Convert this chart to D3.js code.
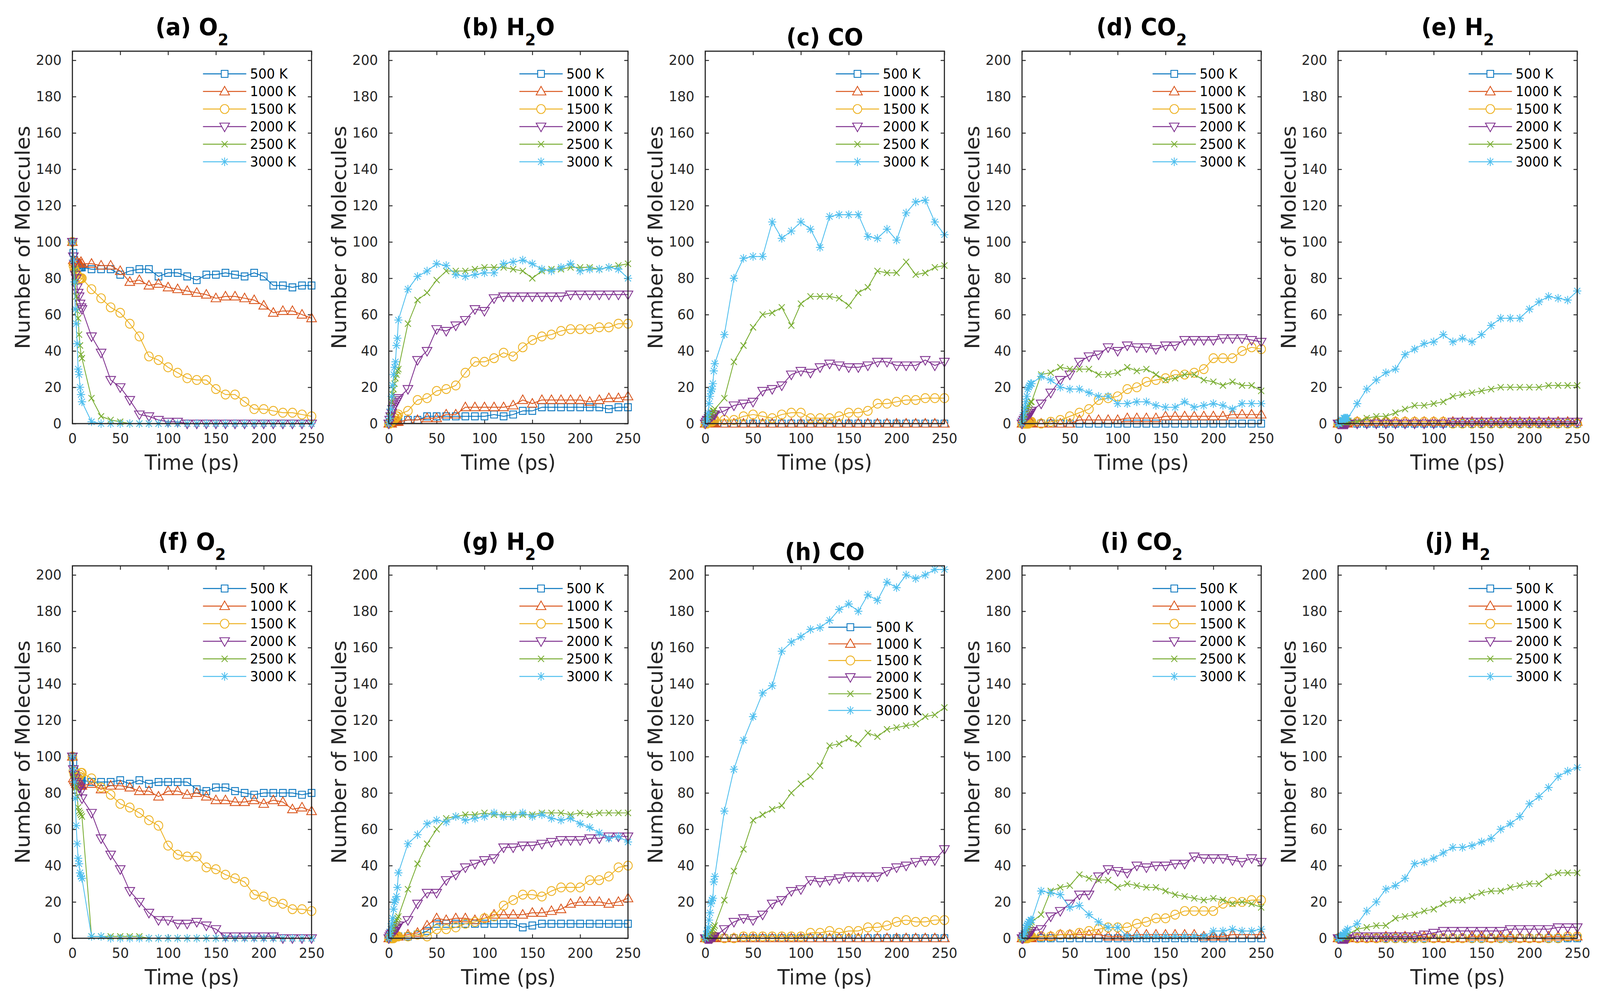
<!DOCTYPE html>
<html>
<head>
<meta charset="utf-8">
<script src="https://cdn.jsdelivr.net/npm/d3@7"></script>
<style>
  html, body { margin: 0; padding: 0; background: #fff; overflow: hidden; }
  #chart svg { display: block; width: 100vw; height: 100vh; }
  text { font-family: "DejaVu Sans", sans-serif; }
</style>
</head>
<body>
<div id="chart"></div>
<script>
// time axis (ps) and tick labels
const times = [0, 1, 2, 3, 4, 5, 6, 7, 8, 9, 10, 20, 30, 40, 50, 60, 70, 80, 90, 100, 110, 120,
  130, 140, 150, 160, 170, 180, 190, 200, 210, 220, 230, 240, 250];
const xTicks = [0, 50, 100, 150, 200, 250];
const yTicks = [0, 20, 40, 60, 80, 100, 120, 140, 160, 180, 200];
const temps = ["500 K", "1000 K", "1500 K", "2000 K", "2500 K", "3000 K"];

// values per panel, one row per temperature (500 K ... 3000 K)
const o2Top = [
  [100,94,90,88,87,87,86,86,86,86,86, 85,85,85,82,84,85,85,81,83,83,81,79,82,82,83,82,81,83,81,76,76,75,76,76],
  [100,90,89,88,88,89,88,88,88,89,88, 88,87,87,84,78,79,76,77,75,74,73,72,71,69,70,70,69,68,65,61,62,62,60,58],
  [100,87,85,84,83,82,81,80,80,80,80, 74,69,64,61,55,48,37,35,31,28,25,24,24,19,16,16,12,8,8,7,6,6,5,4],
  [100,92,88,82,80,75,72,70,66,64,63, 48,39,24,20,13,5,4,2,1,1,0,0,0,0,0,0,0,0,0,0,0,0,0,0],
  [100,90,85,78,70,62,58,49,43,38,36, 14,4,2,1,0,0,0,0,0,0,0,0,0,0,0,0,0,0,0,0,0,0,0,0],
  [100,90,78,63,55,44,30,27,20,16,12, 1,0,0,0,0,0,0,0,0,0,0,0,0,0,0,0,0,0,0,0,0,0,0,0]
];
const h2oTop = [
  [0,0,0,1,1,1,1,1,1,1,1, 2,2,4,4,4,4,4,4,4,5,4,5,7,7,9,9,9,9,9,9,9,8,9,9],
  [0,0,0,0,1,1,1,1,1,1,1, 2,2,3,3,5,5,9,9,9,9,9,10,13,11,13,13,13,13,13,12,13,14,14,15],
  [0,0,1,1,2,2,3,3,4,4,5, 7,13,14,18,19,21,28,34,34,36,39,37,42,46,48,49,51,52,52,52,53,53,55,55],
  [0,2,4,6,8,9,10,11,12,13,14, 19,35,40,52,51,54,57,63,62,69,70,70,70,70,70,70,70,71,71,71,71,71,71,71],
  [0,4,8,12,16,19,22,25,27,29,30, 55,68,72,79,84,84,84,85,86,86,86,85,84,80,84,85,85,86,86,86,85,86,87,88],
  [0,3,8,15,21,27,31,34,43,47,57, 74,81,84,88,87,82,81,82,83,83,88,89,90,88,85,84,86,88,84,85,85,86,85,80]
];
const coTop = [
  [0,0,0,0,0,0,0,0,0,0,0, 0,0,0,0,0,0,0,0,0,0,0,0,0,0,0,0,0,0,0,0,0,0,0,0],
  [0,0,0,0,0,0,0,0,0,0,0, 0,0,0,0,0,0,0,0,0,0,0,0,0,0,0,0,0,0,0,0,0,0,0,0],
  [0,0,0,1,1,1,1,1,2,2,2, 2,2,4,5,4,3,5,6,6,3,3,3,4,6,6,7,11,11,12,13,13,14,14,14],
  [0,1,2,2,3,3,4,4,5,5,5, 7,10,11,12,18,19,21,27,29,28,31,33,32,31,31,32,34,34,32,32,32,35,32,34],
  [0,1,2,3,4,4,5,6,7,7,8, 14,34,43,53,60,61,64,54,66,70,70,70,69,65,72,75,84,83,83,89,82,83,86,87],
  [0,1,3,6,11,15,18,19,22,29,33, 49,80,91,92,92,111,102,106,111,107,97,114,115,115,115,103,102,107,101,116,122,123,111,104]
];
const co2Top = [
  [0,0,0,0,0,0,0,0,0,0,0, 0,0,0,0,0,0,0,0,0,0,0,0,0,0,0,0,0,0,0,0,0,0,0,0],
  [0,0,0,0,0,0,0,0,0,0,0, 0,0,0,0,2,2,2,2,2,3,3,3,3,4,4,4,4,4,4,4,5,5,5,5],
  [0,0,0,0,0,0,0,0,1,1,1, 0,1,2,4,6,8,13,14,15,19,20,23,24,25,27,27,28,30,36,36,36,40,42,41],
  [0,1,2,3,4,4,5,5,6,6,7, 11,17,24,27,34,37,38,42,40,43,42,42,41,43,43,46,46,46,46,47,47,47,46,45],
  [0,2,3,5,7,8,9,10,11,12,12, 27,28,31,30,30,30,27,27,28,31,29,30,27,24,25,27,27,24,23,21,23,21,21,18],
  [0,3,6,9,12,15,19,20,21,22,22, 26,24,20,19,19,17,15,15,11,11,12,12,10,9,9,12,9,10,11,10,8,11,11,11]
];
const h2Top = [
  [0,0,0,0,0,0,0,0,0,0,0, 0,0,0,0,0,0,0,0,0,0,0,0,0,0,0,0,0,0,0,0,0,0,0,0],
  [0,0,0,0,0,0,0,0,0,0,0, 1,1,1,1,1,1,1,1,1,1,1,1,1,1,1,1,1,1,1,1,1,1,1,1],
  [0,0,0,0,0,1,1,1,1,1,1, 1,1,1,1,1,1,1,1,1,1,0,0,0,0,0,0,0,0,0,0,0,0,0,0],
  [0,0,0,0,0,0,0,0,0,0,0, 0,0,0,0,0,0,0,0,0,0,1,1,1,1,1,1,1,1,1,1,1,1,1,1],
  [0,0,0,1,1,1,1,1,1,1,1, 1,3,4,4,6,8,10,10,11,12,15,16,17,18,19,20,20,20,20,20,21,21,21,21],
  [0,0,1,1,2,2,3,3,3,3,3, 11,19,24,28,30,38,41,44,45,49,45,47,45,49,54,58,58,58,63,67,70,69,68,73]
];
const o2Bot = [
  [100,97,92,90,89,88,88,87,87,87,87, 86,86,86,87,85,87,85,86,86,86,86,82,81,83,83,81,80,79,80,80,80,80,79,80],
  [100,88,87,86,85,85,84,84,84,84,84, 85,82,84,84,83,81,81,78,81,81,79,80,78,76,76,75,75,76,74,76,75,71,72,70],
  [100,92,90,89,88,88,88,89,90,91,91, 88,83,79,74,72,69,65,62,51,46,45,45,39,38,35,33,31,24,23,20,19,16,16,15],
  [100,93,90,88,86,85,84,83,83,81,77, 69,55,46,38,26,20,14,10,10,8,8,9,7,5,1,1,1,1,1,1,0,0,0,0],
  [100,90,86,84,83,78,72,70,69,68,67, 1,1,1,1,1,1,0,0,0,0,0,0,0,0,0,0,0,0,0,0,0,0,0,0],
  [100,93,86,77,62,52,44,41,36,34,33, 1,1,0,0,0,0,0,0,0,0,0,0,0,0,0,0,0,0,0,0,0,0,0,0]
];
const h2oBot = [
  [0,0,0,0,1,1,1,1,1,1,1, 1,2,4,8,8,8,8,8,8,8,8,8,6,7,8,8,8,8,8,8,8,8,8,8],
  [0,0,0,1,1,1,1,1,1,1,1, 2,3,7,11,10,11,11,10,11,13,13,13,13,14,14,15,16,19,20,20,20,19,20,22],
  [0,0,0,0,0,0,1,1,1,1,1, 1,2,1,5,5,6,8,9,11,12,18,21,24,24,23,26,28,28,28,32,32,34,39,40],
  [0,1,2,3,3,4,4,5,6,6,7, 10,19,25,25,32,35,39,41,43,44,50,50,51,51,52,53,54,54,54,55,55,56,56,56],
  [0,1,2,3,5,6,8,9,10,11,12, 27,41,52,60,66,67,68,68,69,68,68,68,68,68,69,69,69,68,69,68,69,69,69,69],
  [0,2,5,8,11,16,20,21,23,28,36, 52,57,63,65,64,67,65,66,67,69,67,67,69,67,68,66,65,66,63,61,58,55,56,53]
];
const coBot = [
  [0,0,0,0,0,0,0,0,0,0,0, 0,0,0,0,0,0,0,0,0,0,0,0,0,0,0,0,0,0,0,0,0,0,0,0],
  [0,0,0,0,0,0,0,0,0,0,0, 0,0,0,0,0,0,0,0,0,0,0,0,0,0,0,0,0,0,0,0,0,0,0,0],
  [0,0,0,0,0,0,0,1,1,1,1, 0,0,1,1,1,1,1,1,1,3,3,4,3,4,4,6,6,7,9,10,9,9,10,10],
  [0,0,0,0,0,0,0,0,1,1,1, 5,9,11,10,13,19,21,26,27,32,31,32,33,34,34,34,34,37,39,40,42,43,43,49],
  [0,0,1,1,2,2,3,4,5,6,7, 21,37,49,65,68,71,73,80,85,89,95,106,107,110,107,113,111,115,116,117,118,122,123,127],
  [0,2,4,6,10,14,19,21,22,31,34, 70,93,109,122,135,139,158,163,166,170,171,175,181,184,180,189,186,196,193,200,198,200,203,203]
];
const co2Bot = [
  [0,0,0,0,0,0,0,0,0,0,0, 0,0,0,0,0,0,0,0,0,0,0,0,0,0,0,0,0,0,0,0,0,0,0,0],
  [0,0,0,0,0,0,0,0,0,0,0, 1,1,2,2,2,2,2,1,1,1,2,2,2,2,2,2,2,1,1,1,2,2,2,2],
  [0,0,0,0,0,0,0,1,1,1,1, 1,1,2,2,3,4,5,6,6,6,8,9,11,11,13,15,15,15,15,19,20,20,21,21],
  [0,0,1,1,2,2,2,3,3,4,4, 5,12,15,19,24,24,34,38,37,36,40,39,40,40,41,41,45,44,44,44,43,42,44,42],
  [0,0,1,2,3,4,5,6,7,8,9, 13,26,28,29,35,33,32,32,28,30,29,28,28,26,24,23,22,21,22,21,19,20,19,17],
  [0,1,2,4,6,7,8,9,9,10,10, 26,25,24,17,18,13,9,6,6,1,1,1,1,1,1,1,1,1,4,4,5,4,4,5]
];
const h2Bot = [
  [0,0,0,0,0,0,0,0,0,0,0, 0,0,0,0,0,0,0,0,0,0,0,0,0,0,0,0,0,0,0,0,0,0,0,0],
  [0,0,0,0,0,0,0,0,0,0,0, 0,0,0,1,1,1,1,1,0,0,0,0,1,1,0,1,1,0,0,0,1,1,1,1],
  [0,0,0,0,0,0,0,0,0,0,0, 0,0,0,0,0,0,0,0,0,0,0,0,0,0,0,0,0,0,0,0,0,0,1,1],
  [0,0,0,0,0,0,0,0,0,0,0, 1,1,1,1,1,1,1,2,3,4,4,4,4,4,4,4,5,5,5,5,5,6,6,6],
  [0,0,0,0,1,1,1,1,1,1,2, 5,6,7,7,11,12,13,15,16,19,21,21,23,25,26,26,28,29,30,30,34,36,36,36],
  [0,0,1,1,1,2,2,3,3,4,5, 8,15,20,27,29,33,41,42,44,47,50,50,51,53,55,60,63,67,74,78,83,89,92,94]
];

// MATLAB default colour order and marker per temperature
const colors = ["#0072BD", "#D95319", "#EDB120", "#7E2F8E", "#77AC30", "#4DBEEE"];
const markers = ["square", "triUp", "circle", "triDown", "cross", "star"];

const panels = [
  { tag: "(a)", main: "O", sub: "2", tail: "", data: o2Top },
  { tag: "(b)", main: "H", sub: "2", tail: "O", data: h2oTop },
  { tag: "(c)", main: "CO", sub: "", tail: "", data: coTop },
  { tag: "(d)", main: "CO", sub: "2", tail: "", data: co2Top },
  { tag: "(e)", main: "H", sub: "2", tail: "", data: h2Top },
  { tag: "(f)", main: "O", sub: "2", tail: "", data: o2Bot },
  { tag: "(g)", main: "H", sub: "2", tail: "O", data: h2oBot },
  { tag: "(h)", main: "CO", sub: "", tail: "", data: coBot, lowLegend: true },
  { tag: "(i)", main: "CO", sub: "2", tail: "", data: co2Bot },
  { tag: "(j)", main: "H", sub: "2", tail: "", data: h2Bot }
];

const W = 4288, H = 2559;
const axW = 641, axH = 953;
const lefts = [194, 1042, 1890, 2739, 3586];
const tops = [131, 1448];
const ink = "#262626";

// the drawing is laid out in a 4288 x 2559 frame and stretched to the window
const svg = d3.select("#chart").append("svg")
  .attr("viewBox", `0 0 ${W} ${H}`)
  .attr("preserveAspectRatio", "none");

function markerPath(type) {
  switch (type) {
    case "square": return "M-9,-9H9V9H-9Z";
    case "triUp": return "M0,-13L13,9L-13,9Z";
    case "triDown": return "M0,13L13,-9L-13,-9Z";
    case "circle": return "M11.5,0A11.5,11.5 0 1 1 -11.5,0A11.5,11.5 0 1 1 11.5,0Z";
    case "cross": return "M-8,-8L8,8M-8,8L8,-8";
    case "star": return "M-11,0H11M0,-11V11M-8,-8L8,8M-8,8L8,-8";
  }
}

const x = d3.scaleLinear().domain([0, 250]).range([0, axW]);
const y = d3.scaleLinear().domain([0, 205]).range([axH, 0]);

const line = d3.line()
  .x((d, i) => x(times[i]))
  .y(d => y(d));

panels.forEach(function (p, k) {
  const left = lefts[k % 5], top = tops[Math.floor(k / 5)];
  const g = svg.append("g").attr("transform", `translate(${left}, ${top})`);

  // axes: ticks point inwards on all four sides
  const styleAxis = function (sel) {
    sel.select(".domain").remove();
    sel.selectAll(".tick line").attr("stroke", ink).attr("stroke-width", 2.4);
    sel.selectAll(".tick text").attr("fill", ink).style("font-size", "36px")
      .style("font-family", "'DejaVu Sans', sans-serif");
  };
  g.append("g").call(d3.axisLeft(y).tickValues(yTicks).tickSize(-10).tickPadding(29))
    .call(styleAxis);
  g.append("g").attr("transform", `translate(${axW},0)`)
    .call(d3.axisRight(y).tickValues(yTicks).tickSize(-10).tickFormat(""))
    .call(styleAxis);
  g.append("g").attr("transform", `translate(0,${axH})`)
    .call(d3.axisBottom(x).tickValues(xTicks).tickSize(-10).tickPadding(24))
    .call(styleAxis);
  g.append("g")
    .call(d3.axisTop(x).tickValues(xTicks).tickSize(-10).tickFormat(""))
    .call(styleAxis);

  // series
  p.data.forEach(function (vals, s) {
    g.append("path")
      .attr("d", line(vals))
      .attr("fill", "none")
      .attr("stroke", colors[s])
      .attr("stroke-width", 2.2)
      .attr("stroke-linejoin", "round");
    g.append("g").selectAll("path")
      .data(vals)
      .join("path")
      .attr("transform", (d, i) => `translate(${x(times[i])},${y(d)})`)
      .attr("d", markerPath(markers[s]))
      .attr("fill", "none")
      .attr("stroke", colors[s])
      .attr("stroke-width", 2.2);
  });

  // box
  g.append("rect")
    .attr("width", axW).attr("height", axH)
    .attr("fill", "none").attr("stroke", ink).attr("stroke-width", 3);

  // legend (no box)
  const lg = p.lowLegend
    ? { x0: 330, x1: 445, mx: 389, tx: 457, y0: 157, dy: 42.6 }
    : { x0: 350, x1: 466, mx: 408, tx: 476, y0: 58, dy: 45 };
  temps.forEach(function (t, s) {
    const ly = lg.y0 + s * lg.dy;
    g.append("line")
      .attr("x1", lg.x0).attr("x2", lg.x1).attr("y1", ly).attr("y2", ly)
      .attr("stroke", colors[s]).attr("stroke-width", 2.4);
    g.append("path")
      .attr("transform", `translate(${lg.mx},${ly})`)
      .attr("d", markerPath(markers[s]))
      .attr("fill", "#fff").attr("stroke", colors[s]).attr("stroke-width", 2.2);
    g.append("text")
      .attr("x", lg.tx).attr("y", ly)
      .attr("dominant-baseline", "central")
      .attr("fill", "#000")
      .style("font-size", "35px")
      .text(t);
  });

  // axis labels
  g.append("text")
    .attr("x", axW / 2).attr("y", axH + 118)
    .attr("text-anchor", "middle")
    .attr("fill", ink)
    .style("font-size", "54px")
    .text("Time (ps)");
  g.append("text")
    .attr("transform", `translate(-114, ${axH / 2}) rotate(-90)`)
    .attr("text-anchor", "middle")
    .attr("fill", ink)
    .style("font-size", "54px")
    .text("Number of Molecules");

  // title with chemical subscript
  const title = g.append("text")
    .attr("x", axW / 2)
    .attr("y", p.sub ? -41 : -15)
    .attr("text-anchor", "middle")
    .attr("fill", "#000")
    .style("font-size", "60px")
    .style("font-weight", "bold");
  title.append("tspan").text(p.tag + " " + p.main);
  if (p.sub) {
    title.append("tspan").attr("dy", 26).style("font-size", "41px").text(p.sub);
    if (p.tail) title.append("tspan").attr("dy", -26).text(p.tail);
  }
});
</script>
</body>
</html>
